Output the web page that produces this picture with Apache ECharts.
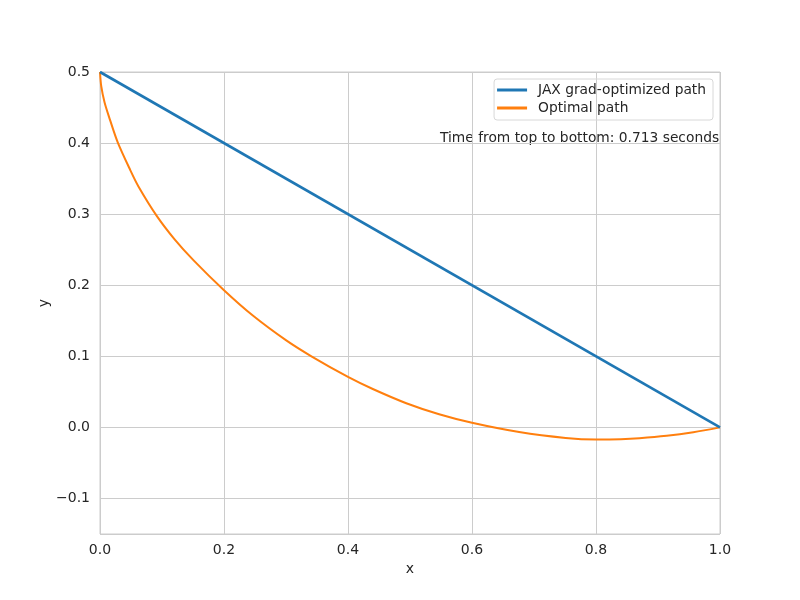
<!DOCTYPE html>
<html>
<head>
	<meta charset="utf-8">
	<title>Brachistochrone</title>
	<script src="https://cdn.jsdelivr.net/npm/echarts@6/dist/echarts.min.js"></script>
</head>
<body style="margin:0">
	<div id="chart" style="width: 800px; height: 600px;"></div>
	<script type="text/javascript">
	// path
	var jaxX = [0, 1];
	var jaxY = [0.5, 0];
	var optX = [0, 0.002, 0.0074, 0.016, 0.0286, 0.0488, 0.062, 0.0912, 0.120, 0.151, 0.2, 0.247, 0.301, 0.341, 0.4, 0.440, 0.494, 0.547, 0.6, 0.676, 0.751, 0.8, 0.84, 0.87, 0.914, 0.957, 1.0];
	var optY = [0.5, 0.480, 0.457, 0.433, 0.401, 0.362, 0.339, 0.298, 0.265, 0.235, 0.193, 0.157, 0.122, 0.1, 0.071, 0.054, 0.034, 0.0185, 0.0065, -0.0065, -0.0148, -0.017, -0.0166, -0.0153, -0.0119, -0.0068, 0];
	var seriesNames = ['JAX grad-optimized path', 'Optimal path'];
	var note = 'Time from top to bottom: 0.713 seconds';

	function pairs(xs, ys) {
		return xs.map(function (x, i) { return [x, ys[i]]; });
	}
	function fmt(v) {
		return v.toFixed(1).replace('-', '\u2212');
	}

	var font = 'DejaVu Sans';
	var ink = '#262626';
	var chart = echarts.init(document.getElementById('chart'));
	chart.setOption({
		animation: false,
		backgroundColor: '#fff',
		textStyle: { fontFamily: font },
		grid: {
			left: 100, right: 80, top: 72, bottom: 66,
			show: true, borderColor: '#cccccc', borderWidth: 1
		},
		legend: {
			orient: 'vertical',
			right: 87, top: 79,
			padding: [4, 7, 5, 3],
			itemGap: 4,
			itemWidth: 30,
			itemHeight: 3,
			icon: 'rect',
			borderColor: '#d8d8d8',
			borderWidth: 1,
			borderRadius: 3,
			textStyle: { fontFamily: font, fontSize: 13.8, color: ink, padding: [0, 0, 0, 6] },
			data: seriesNames
		},
		graphic: [{
			type: 'text',
			left: 440, top: 131,
			style: { text: note, fontFamily: font, fontSize: 13.8, fill: ink }
		}, {
			// y axis title, placed by hand
			type: 'text',
			x: 44, y: 303,
			rotation: Math.PI / 2,
			style: { text: 'y', fontFamily: font, fontSize: 14, fill: ink, align: 'center', verticalAlign: 'middle' }
		}],
		xAxis: {
			type: 'value',
			min: 0, max: 1, interval: 0.2,
			name: 'x', nameLocation: 'middle', nameGap: 28,
			nameTextStyle: { fontFamily: font, fontSize: 14, color: ink },
			axisLine: { show: false },
			axisTick: { show: false },
			axisLabel: { formatter: fmt, fontFamily: font, fontSize: 14, color: ink, margin: 9 },
			splitLine: { lineStyle: { color: '#cccccc', width: 1 } }
		},
		yAxis: {
			type: 'value',
			min: -0.15, max: 0.5,
			axisLine: { show: false },
			axisTick: { show: false },
			axisLabel: {
				showMinLabel: false,
				formatter: function (v) { return Math.abs(v + 0.15) < 1e-6 ? '' : fmt(v); },
				fontFamily: font, fontSize: 14, color: ink, margin: 10
			},
			splitLine: { lineStyle: { color: '#cccccc', width: 1 } }
		},
		series: [{
			name: seriesNames[0],
			type: 'line',
			data: pairs(jaxX, jaxY),
			showSymbol: false,
			lineStyle: { color: '#1f77b4', width: 2.6 },
			itemStyle: { color: '#1f77b4' },
			z: 3
		}, {
			name: seriesNames[1],
			type: 'line',
			data: pairs(optX, optY),
			smooth: 0.3,
			showSymbol: false,
			lineStyle: { color: '#ff7f0e', width: 2 },
			itemStyle: { color: '#ff7f0e' },
			z: 2
		}]
	});
	</script>
</body>
</html>
